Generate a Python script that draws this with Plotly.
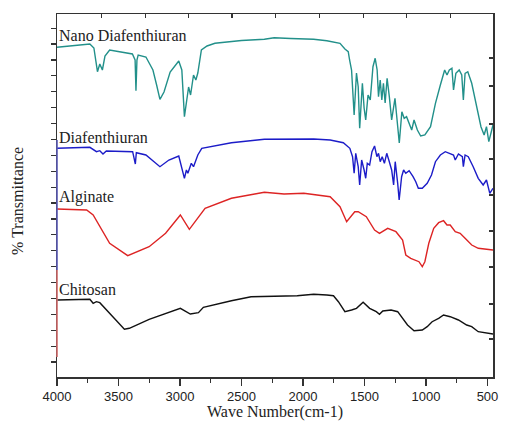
import plotly.graph_objects as go

# ---- data (wavenumber in cm-1, transmittance in arbitrary offset units) ----
nano_x = [4000, 3900, 3800, 3733, 3700, 3671, 3652, 3631, 3610, 3572, 3480, 3387, 3365, 3358, 3350, 3340,
          3277, 3220, 3190, 3163, 3130, 3080, 3010, 2985, 2964, 2943, 2930, 2914, 2890, 2871, 2855, 2826,
          2780, 2716, 2500, 2314, 2234, 2100, 1913, 1806, 1726, 1699, 1659, 1632, 1621, 1605, 1584, 1565,
          1551, 1539, 1517, 1503, 1490, 1471, 1453, 1431, 1413, 1397, 1386, 1372, 1359, 1346, 1332, 1316,
          1298, 1279, 1252, 1236, 1217, 1196, 1177, 1158, 1137, 1116, 1097, 1070, 1043, 1009, 963, 923,
          883, 848, 829, 810, 789, 776, 757, 730, 709, 696, 682, 660, 628, 588, 553, 527, 508, 489, 468, 455]
nano_y = [329.7, 331, 332, 333, 329, 305.3, 313, 307, 321, 327, 325, 323, 317, 286.3, 317, 322,
          320, 307, 292, 277.7, 285, 305, 316, 307, 260.3, 282, 290, 282, 302, 297, 304, 327,
          331, 333.7, 336.5, 337.7, 339.3, 338.5, 337.7, 336.3, 334, 333.7, 328, 325.3, 317, 307, 262, 304,
          290.3, 248.7, 293.7, 269, 257, 282, 277, 310.3, 318.7, 307, 280.3, 297, 277, 293.7, 274, 298.7,
          280.3, 257, 278.7, 257, 234, 265.3, 258.7, 260.3, 253.7, 247, 257, 247, 241, 242, 250.3, 273.7,
          292, 307, 302, 307, 308.7, 287, 303.7, 307, 302, 277, 303.7, 305.3, 293.7, 270.3, 250.3, 242, 250.3, 235.3, 244, 252]

dia_x = [4000, 3733, 3679, 3652, 3626, 3599, 3385, 3363, 3355, 3277, 3163, 3090, 3010, 2964, 2948, 2936,
         2908, 2890, 2855, 2823, 2582, 2314, 1913, 1806, 1779, 1672, 1619, 1597, 1584, 1571, 1551, 1539,
         1523, 1503, 1490, 1477, 1458, 1439, 1418, 1399, 1386, 1372, 1356, 1338, 1319, 1298, 1279, 1263,
         1250, 1230, 1218, 1198, 1182, 1164, 1137, 1105, 1083, 1062, 1030, 990, 955, 923, 883, 843, 810,
         776, 762, 736, 704, 696, 682, 656, 616, 575, 535, 508, 481, 455]
dia_y = [228.7, 229.7, 225.3, 226.3, 223, 226, 225.3, 213, 224.3, 222, 210.3, 217, 221, 198.7, 207, 203.7,
         213.7, 210.3, 222, 228.7, 234.3, 237.7, 238, 237.7, 237, 234.3, 228.7, 220.3, 203.7, 223.7, 210.3, 192,
         217, 207, 198.7, 213.7, 212, 225.3, 231, 220.3, 223.7, 215.3, 220.3, 213.7, 223.7, 215.3, 207, 192,
         215.3, 193.7, 177, 200.3, 207, 203.7, 206.3, 200.3, 195.3, 188.7, 188.7, 193.7, 202, 215.3, 222, 225.3, 223.7,
         222, 217, 223, 220.3, 210.3, 222, 220.3, 210.3, 198.7, 192, 197, 183.7, 188.7]

alg_x = [4000, 3759, 3706, 3652, 3572, 3425, 3251, 3117, 2997, 2924, 2796, 2582, 2314, 2154, 1993, 1779,
         1699, 1645, 1579, 1551, 1485, 1418, 1378, 1311, 1244, 1190, 1164, 1124, 1083, 1057, 1030, 1009,
         977, 937, 897, 857, 829, 803, 762, 722, 682, 628, 575, 522, 468, 455]
alg_y = [168, 167, 162, 150.3, 133.7, 121.3, 130.3, 143.7, 162, 147.7, 168.7, 178.7, 184.7, 183, 183.7, 180.3,
         170.3, 155.3, 165.3, 165.3, 160.3, 147, 143.7, 148.7, 145.3, 137, 122, 118.7, 117, 115.3, 110.3, 115.3,
         133.7, 148.7, 154.3, 156.3, 152, 152, 145.3, 143.7, 138.7, 132, 128.7, 127.7, 127, 127]

chi_x = [4000, 3733, 3706, 3680, 3652, 3599, 3452, 3412, 3251, 2997, 2916, 2850, 2810, 2582, 2422, 2047,
         1913, 1806, 1752, 1712, 1659, 1605, 1565, 1511, 1458, 1404, 1378, 1351, 1284, 1230, 1190, 1150,
         1097, 1030, 990, 950, 897, 857, 803, 736, 669, 628, 575, 522, 468, 455]
chi_y = [77, 77.7, 73.7, 75.3, 74.3, 67, 47.7, 48.7, 57.7, 68.7, 63, 64.3, 69.7, 76.3, 80.3, 81.3,
         82.7, 82, 81.3, 75.3, 65.3, 67, 68.7, 74.7, 68.7, 65.3, 62.7, 66, 67, 65.3, 58.7, 52,
         46.3, 47, 50.3, 55.3, 58.7, 62, 60.3, 57, 52, 50.3, 45.3, 44.3, 43, 43]

series_names = ["Nano Diafenthiuran", "Diafenthiuran", "Alginate", "Chitosan"]
series_label_y = [342, 240, 180, 88]
series_colors = ["#22908a", "#1c1cc8", "#dd2424", "#111111"]

x_ticks = [4000, 3500, 3000, 2500, 2000, 1500, 1000, 500]
top_ticks = [3639, 3283, 2930, 2577, 2221, 1868, 1511, 1158, 802]
right_ticks = [319, 291, 253, 218, 182, 146, 110, 73, 38]

fig = go.Figure()
for xs, ys, c in [(nano_x, nano_y, series_colors[0]), (dia_x, dia_y, series_colors[1]),
                  (alg_x, alg_y, series_colors[2]), (chi_x, chi_y, series_colors[3])]:
    fig.add_trace(go.Scatter(x=xs, y=ys, mode="lines", line=dict(color=c, width=1.4),
                             showlegend=False, hoverinfo="skip"))
# empty trace so the frame axes (top/right) get drawn
fig.add_trace(go.Scatter(x=[], y=[], xaxis="x2", yaxis="y2", showlegend=False))

XR = [4000, 455]
YR = [0, 363]
fig.update_layout(
    width=505, height=429,
    margin=dict(l=57, r=7, t=14, b=52),
    paper_bgcolor="white", plot_bgcolor="white",
    xaxis=dict(range=XR, showgrid=False, zeroline=False, showline=True, linecolor="#333", linewidth=1.5,
               tickmode="array", tickvals=x_ticks, ticks="outside", ticklen=7, tickwidth=1.3, tickcolor="#333",
               minor=dict(dtick=250, tick0=0, ticks="outside", ticklen=4, tickcolor="#333", tickwidth=1.2),
               tickfont=dict(family="Liberation Sans, Arial", size=13, color="#222")),
    yaxis=dict(range=YR, showgrid=False, zeroline=False, showline=True, linecolor="#333", linewidth=1.5,
               tick0=15, dtick=15.9, ticks="outside", ticklen=5, tickwidth=1.2, tickcolor="#333",
               showticklabels=False),
    xaxis2=dict(range=XR, overlaying="x", side="top", showgrid=False, zeroline=False, showline=True,
                linecolor="#333", linewidth=1.5, tickmode="array", tickvals=top_ticks, ticks="inside",
                ticklen=4, tickwidth=1.2, tickcolor="#333", showticklabels=False),
    yaxis2=dict(range=YR, overlaying="y", side="right", showgrid=False, zeroline=False, showline=True,
                linecolor="#333", linewidth=1.5, tickmode="array", tickvals=right_ticks, ticks="inside",
                ticklen=4, tickwidth=1.2, tickcolor="#333", showticklabels=False),
)

# coloured segments on the left axis line
fig.add_shape(type="line", xref="paper", yref="y", x0=0, x1=0, y0=237, y1=107,
              line=dict(color="#5a5ab4", width=1.6))
fig.add_shape(type="line", xref="paper", yref="y", x0=0, x1=0, y0=107, y1=20,
              line=dict(color="#d06a6a", width=1.6))

for name, ly in zip(series_names, series_label_y):
    fig.add_annotation(text=name, xref="paper", yref="y", x=0.0, y=ly, xanchor="left", yanchor="middle",
                       showarrow=False, font=dict(family="Liberation Serif, Times New Roman", size=16, color="#222"))

fig.add_annotation(text="Wave Number(cm-1)", xref="paper", yref="paper", x=0.5, y=-0.097,
                   xanchor="center", yanchor="middle", showarrow=False,
                   font=dict(family="Liberation Serif, Times New Roman", size=16, color="#222"))
fig.add_annotation(text="% Transmittance", xref="paper", yref="paper", x=-0.0896, y=0.485,
                   xanchor="center", yanchor="middle", textangle=-90, showarrow=False,
                   font=dict(family="Liberation Serif, Times New Roman", size=16, color="#222"))

fig.write_html("out.html", config={"displayModeBar": False, "staticPlot": True},
               post_script="document.body.style.margin='0';document.body.style.overflow='hidden';")
